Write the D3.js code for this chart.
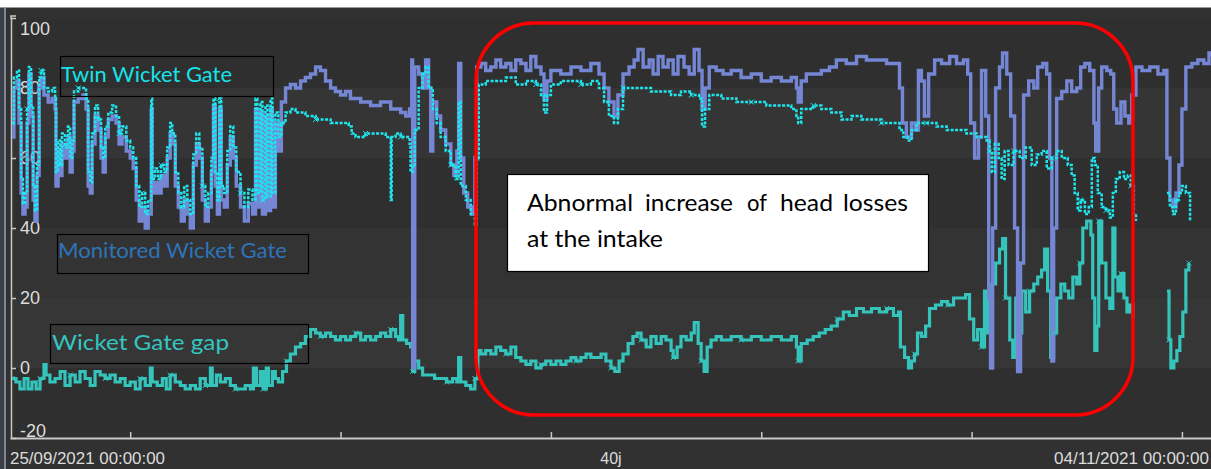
<!DOCTYPE html>
<html>
<head>
<meta charset="utf-8" />
<title>Wicket gate opening</title>
<style>
  html, body { margin: 0; padding: 0; background: #fff; }
  svg { display: block; }
  .lbl { font-family: "Liberation Sans Narrow", "Liberation Sans", Arial, sans-serif; fill: #dcdcdc; }
  .tag { font-family: Lato, "Open Sans", sans-serif; }
</style>
</head>
<body>
<svg id="chart"></svg>
<script src="https://cdn.jsdelivr.net/npm/d3@7"></script>
<script>
// x in days since 25/09/2021 00:00, y in %
const yTicks = [100, 80, 60, 40, 20, 0, -20];
const xTickDays = [4, 11, 18, 25, 32, 39];
const xLabels = [[0, "25/09/2021 00:00:00", "start"], [20, "40j", "middle"], [40, "04/11/2021 00:00:00", "end"]];

const monitored = [
  [0.07,66],[0.13,80],[0.23,82],[0.3,70],[0.37,50],[0.43,44],[0.5,46],[0.57,70],[0.63,84],[0.7,72],
  [0.77,48],[0.83,42],[0.9,55],[0.97,80],[1.03,83],[1.13,78],[1.27,76],[1.4,77],[1.5,74],[1.53,52],
  [1.6,62],[1.67,55],[1.73,64],[1.83,60],[1.93,66],[2.0,56],[2.07,62],[2.13,76],[2.27,77],[2.43,78],
  [2.53,74],[2.6,52],[2.67,50],[2.73,64],[2.83,72],[2.93,68],[3.03,60],[3.1,56],[3.17,66],[3.27,71],
  [3.4,72],[3.53,70],[3.63,64],[3.73,66],[3.87,62],[4.0,60],[4.1,57],[4.2,48],[4.3,42],[4.4,46],
  [4.5,40],[4.6,44],[4.7,74],[4.73,50],[4.83,53],[4.93,50],[5.03,55],[5.13,52],[5.23,60],[5.33,67],
  [5.4,64],[5.5,52],[5.6,46],[5.7,42],[5.8,48],[5.9,44],[6.0,40],[6.1,58],[6.2,64],[6.3,60],
  [6.4,48],[6.5,42],[6.6,46],[6.7,56],[6.77,75],[6.83,52],[6.9,44],[6.97,74],[7.03,48],[7.13,46],
  [7.23,58],[7.33,66],[7.43,60],[7.53,52],[7.67,46],[7.8,42],[7.93,47],[8.07,44],[8.17,74],[8.23,46],
  [8.33,73],[8.4,44],[8.5,72],[8.57,45],[8.67,74],[8.73,46],[8.83,70],[8.93,62],[9.03,76],[9.17,80],
  [9.33,81],[9.5,80],[9.67,82],[9.83,83],[10.0,84],[10.17,86],[10.33,85],[10.5,82],[10.67,80],[10.83,79],
  [11.0,78],[11.17,79],[11.33,77],[11.67,76],[12.0,75],[12.33,76],[12.67,74],[13.0,73],[13.17,72],[13.3,74],
  [13.37,88],[13.4,1],[13.43,0],[13.47,86],[13.6,84],[13.73,80],[13.83,88],[13.93,80],[14.0,62],[14.07,76],
  [14.2,72],[14.33,68],[14.5,64],[14.67,58],[14.77,55],[14.87,62],[14.93,87],[15.0,60],[15.1,50],[15.23,46],
  [15.37,44],[15.47,60],[15.53,86],[15.67,87],[15.83,85],[16.0,86],[16.17,88],[16.33,86],[16.5,87],[16.67,85],
  [16.83,88],[17.0,87],[17.17,85],[17.33,89],[17.5,86],[17.67,84],[17.77,77],[17.87,82],[18.0,85],[18.33,84],
  [18.67,86],[19.0,85],[19.33,87],[19.6,84],[19.77,80],[19.93,76],[20.1,72],[20.23,78],[20.4,84],[20.6,86],
  [20.77,88],[20.9,91],[21.07,86],[21.27,88],[21.4,84],[21.57,89],[21.73,86],[21.9,88],[22.07,84],[22.23,89],
  [22.43,86],[22.6,84],[22.77,91],[22.93,85],[23.03,74],[23.13,80],[23.27,86],[23.5,85],[23.73,84],[24.0,85],
  [24.33,83],[24.67,84],[25.0,82],[25.33,83],[25.67,82],[26.0,83],[26.17,80],[26.23,76],[26.33,82],[26.5,84],
  [26.73,84],[27.0,85],[27.27,86],[27.5,88],[27.83,87],[28.17,89],[28.5,88],[28.83,88],[29.17,87],[29.5,87],
  [29.6,80],[29.7,70],[29.83,66],[30.0,70],[30.13,68],[30.23,85],[30.33,82],[30.43,72],[30.57,84],[30.77,88],
  [31.0,87],[31.27,89],[31.5,87],[31.73,88],[31.87,84],[31.97,70],[32.1,60],[32.23,66],[32.33,85],[32.47,72],
  [32.57,20],[32.63,0],[32.7,40],[32.8,80],[32.93,86],[33.03,90],[33.17,84],[33.3,72],[33.43,40],[33.53,-1],
  [33.63,30],[33.73,78],[33.9,82],[34.07,80],[34.2,86],[34.37,87],[34.5,84],[34.6,60],[34.67,2],[34.73,40],
  [34.83,77],[35.0,79],[35.17,82],[35.33,79],[35.5,80],[35.63,86],[35.77,87],[35.93,85],[36.07,70],[36.13,62],
  [36.23,80],[36.33,86],[36.5,85],[36.63,84],[36.73,74],[36.83,70],[36.97,76],[37.1,72],[37.23,70],[37.33,78],
  [37.47,86],[37.67,85],[37.93,86],[38.2,84],[38.4,85],[38.5,60],[38.6,48],[38.7,46],[38.8,50],[38.9,58],
  [39.0,74],[39.13,86],[39.33,87],[39.53,88],[39.73,87],[39.9,90],[40.0,89]
];

const twin = [
  [0.07,70],[0.13,83],[0.23,85],[0.3,74],[0.37,54],[0.43,47],[0.5,50],[0.57,74],[0.63,86],[0.7,75],
  [0.77,52],[0.83,45],[0.9,58],[0.97,83],[1.03,85],[1.13,80],[1.27,79],[1.4,80],[1.5,77],[1.53,56],
  [1.6,65],[1.67,58],[1.73,67],[1.83,63],[1.93,69],[2.0,60],[2.07,65],[2.13,79],[2.27,80],[2.43,80],
  [2.53,77],[2.6,56],[2.67,53],[2.73,67],[2.83,75],[2.93,71],[3.03,63],[3.1,60],[3.17,69],[3.27,73],
  [3.4,75],[3.53,72],[3.63,67],[3.73,69],[3.87,65],[4.0,63],[4.1,60],[4.2,52],[4.3,46],[4.4,50],
  [4.5,44],[4.6,48],[4.7,77],[4.73,54],[4.83,57],[4.93,54],[5.03,58],[5.13,56],[5.23,63],[5.33,70],
  [5.4,67],[5.5,56],[5.6,50],[5.7,46],[5.8,52],[5.9,48],[6.0,44],[6.1,61],[6.2,67],[6.3,63],
  [6.4,52],[6.5,46],[6.6,50],[6.7,60],[6.77,77],[6.83,56],[6.9,48],[6.97,77],[7.03,52],[7.13,50],
  [7.23,62],[7.33,69],[7.43,63],[7.53,56],[7.67,50],[7.8,46],[7.93,51],[8.07,48],[8.17,77],[8.23,50],
  [8.33,76],[8.4,48],[8.5,75],[8.57,49],[8.67,77],[8.73,50],[8.83,73],[8.93,66],[9.03,70],[9.17,73],
  [9.33,74],[9.5,73],[9.67,73],[9.83,72],[10.0,72],[10.17,71],[10.33,71],[10.67,70],[11.0,70],[11.27,69],
  [11.37,67],[11.5,66],[11.83,67],[12.17,67],[12.5,66],[12.63,66],[12.67,48],[12.7,66],[12.83,67],[13.0,66],
  [13.17,66],[13.3,64],[13.33,56],[13.4,58],[13.47,68],[13.6,80],[13.73,84],[13.83,86],[13.93,80],[14.07,74],
  [14.2,70],[14.33,66],[14.5,62],[14.67,58],[14.83,54],[14.93,76],[15.0,52],[15.17,48],[15.33,44],[15.47,41],
  [15.53,60],[15.6,81],[15.83,82],[16.17,82],[16.5,83],[16.83,81],[17.17,82],[17.5,81],[17.67,78],[17.77,73],
  [17.87,78],[18.0,81],[18.33,82],[18.67,82],[19.0,81],[19.33,82],[19.6,80],[19.77,76],[19.93,72],[20.1,70],
  [20.23,74],[20.4,80],[20.67,80],[21.0,80],[21.33,79],[21.67,79],[22.0,78],[22.33,79],[22.67,78],[22.93,77],
  [23.03,69],[23.13,74],[23.27,78],[23.67,77],[24.17,76],[24.67,76],[25.17,75],[25.67,75],[26.0,74],[26.17,72],
  [26.23,70],[26.33,74],[26.73,75],[27.0,74],[27.33,73],[27.67,71],[28.0,72],[28.33,71],[28.67,71],[29.0,70],
  [29.33,70],[29.6,68],[29.73,66],[29.87,65],[30.0,68],[30.17,70],[30.5,70],[30.83,69],[31.17,68],[31.5,68],
  [31.83,67],[32.17,66],[32.5,65],[32.6,62],[32.67,56],[32.77,64],[32.9,60],[33.0,54],[33.1,62],[33.23,58],
  [33.4,62],[33.6,60],[33.8,63],[34.0,58],[34.17,61],[34.33,62],[34.5,57],[34.67,60],[34.83,62],[35.0,60],
  [35.2,58],[35.33,55],[35.43,50],[35.53,45],[35.63,48],[35.77,44],[35.9,46],[36.0,60],[36.1,58],[36.2,50],
  [36.33,46],[36.47,45],[36.6,43],[36.7,50],[36.8,54],[36.93,56],[37.07,54],[37.2,55],[37.3,52],[37.4,44],
  [37.47,42],[38.0,null],[38.5,50],[38.6,46],[38.7,44],[38.8,48],[38.9,50],[39.0,52],[39.13,50],[39.27,42]
];

const gap = [
  [0.07,-3],[0.2,-4],[0.33,-6],[0.47,-3],[0.6,-6],[0.73,-4],[0.87,-6],[1.0,-3],[1.13,1],[1.2,-2],
  [1.33,-4],[1.5,-3],[1.67,-1],[1.83,-5],[2.0,-2],[2.17,-4],[2.33,-1],[2.5,-3],[2.67,-5],[2.83,-1],
  [3.0,-2],[3.17,-3],[3.33,-2],[3.5,-4],[3.67,-3],[3.83,-5],[4.0,-4],[4.17,-6],[4.33,-3],[4.5,-5],
  [4.67,0],[4.73,-4],[4.9,-5],[5.07,-3],[5.2,-6],[5.33,-2],[5.5,-4],[5.67,-5],[5.83,-6],[6.0,-5],
  [6.17,-6],[6.33,-3],[6.5,-5],[6.67,0],[6.73,-5],[6.87,-2],[7.0,-4],[7.17,-3],[7.33,-5],[7.5,-6],
  [7.67,-6],[7.83,-5],[8.0,-6],[8.1,0],[8.2,-5],[8.33,-1],[8.43,-6],[8.53,0],[8.6,-5],[8.73,-1],
  [8.83,-3],[8.93,-4],[9.07,-1],[9.2,2],[9.33,4],[9.5,6],[9.67,7],[9.83,9],[10.0,11],[10.17,10],
  [10.33,9],[10.5,10],[10.67,9],[10.83,8],[11.0,9],[11.17,8],[11.33,9],[11.5,10],[11.67,8],[11.83,9],
  [12.0,8],[12.17,9],[12.33,10],[12.5,9],[12.67,11],[12.83,9],[12.93,8],[13.0,15],[13.07,8],[13.2,7],
  [13.33,6],[13.4,-1],[13.47,2],[13.6,0],[13.73,-2],[13.93,-2],[14.13,-3],[14.33,-3],[14.53,-4],[14.73,-3],
  [14.87,-4],[14.93,3],[15.0,-4],[15.17,-5],[15.33,-6],[15.47,-3],[15.57,5],[15.67,4],[15.83,5],[16.0,4],
  [16.17,6],[16.33,5],[16.5,4],[16.67,6],[16.83,3],[17.0,2],[17.17,1],[17.33,2],[17.5,0],[17.67,1],
  [17.83,2],[18.0,1],[18.17,2],[18.33,1],[18.5,2],[18.67,3],[18.83,2],[19.0,3],[19.17,4],[19.33,3],
  [19.5,3],[19.67,4],[19.83,2],[20.0,0],[20.13,-1],[20.27,2],[20.4,4],[20.57,7],[20.73,9],[20.87,10],
  [21.0,8],[21.17,6],[21.33,9],[21.5,7],[21.67,9],[21.83,8],[22.0,5],[22.07,3],[22.2,6],[22.33,9],
  [22.5,8],[22.67,10],[22.77,13],[22.9,7],[23.0,2],[23.1,-1],[23.2,6],[23.33,8],[23.5,9],[23.67,8],
  [24.0,9],[24.33,8],[24.67,9],[25.0,8],[25.33,9],[25.67,8],[26.0,9],[26.17,6],[26.23,2],[26.33,7],
  [26.53,8],[26.73,9],[26.93,10],[27.13,11],[27.33,12],[27.53,14],[27.73,16],[27.93,15],[28.17,17],[28.4,16],
  [28.67,17],[28.93,16],[29.17,17],[29.4,15],[29.57,16],[29.63,6],[29.77,3],[29.9,0],[30.0,2],[30.1,4],
  [30.2,10],[30.33,9],[30.47,12],[30.6,17],[30.8,18],[31.0,19],[31.2,18],[31.4,20],[31.6,20],[31.8,21],
  [31.93,14],[32.07,8],[32.2,11],[32.33,6],[32.43,22],[32.53,10],[32.67,24],[32.8,30],[32.93,34],[33.03,37],
  [33.13,20],[33.27,8],[33.37,3],[33.47,20],[33.57,10],[33.67,22],[33.8,16],[33.93,22],[34.07,24],[34.2,26],
  [34.33,28],[34.43,34],[34.53,22],[34.63,3],[34.73,10],[34.83,20],[34.97,24],[35.1,22],[35.23,20],[35.37,26],
  [35.5,24],[35.6,30],[35.7,40],[35.83,42],[35.97,38],[36.03,20],[36.1,5],[36.17,12],[36.23,42],[36.33,30],
  [36.47,20],[36.6,17],[36.7,40],[36.77,26],[36.87,22],[36.97,27],[37.07,20],[37.17,16],[37.27,18],[37.37,14],
  [38.0,null],[38.5,22],[38.57,8],[38.63,0],[38.73,2],[38.83,5],[38.93,9],[39.03,16],[39.13,28],[39.23,30]
];

const noteWords = [["Abnormal", 527, 106], ["increase", 645, 88], ["of", 747, 20], ["head", 780, 53], ["losses", 843, 65]];

const W = 1211, H = 469;
const svg = d3.select("#chart").attr("width", W).attr("height", H);

const x = d3.scaleLinear().domain([0, 40]).range([10, 1212]);
const y = d3.scaleLinear().domain([-20, 100]).range([438, 18]);

// background
svg.append("rect").attr("width", W).attr("height", H).attr("fill", "#313131");
svg.append("rect").attr("width", W).attr("height", 7).attr("fill", "#fff");
svg.append("line").attr("x1", 0).attr("x2", W).attr("y1", 7.5).attr("y2", 7.5).attr("stroke", "#9a9a9a");
svg.append("rect").attr("x", 0).attr("y", 8).attr("width", 4).attr("height", H).attr("fill", "#3a3f4a");
svg.append("line").attr("x1", 5).attr("x2", 5).attr("y1", 8).attr("y2", H).attr("stroke", "#98a2b2").attr("stroke-width", 1.5);

const bandFill = ["#2f2f2f", "#353535", "#2f2f2f", "#333333", "#363636", "#2f2f2f"];
svg.append("g").selectAll("rect").data(yTicks.slice(0, -1)).join("rect")
  .attr("x", 12).attr("width", W - 12)
  .attr("y", d => y(d)).attr("height", d => y(d - 20) - y(d))
  .attr("fill", (d, i) => bandFill[i]);

// axes
const xAxis = svg.append("g").attr("transform", `translate(0,${y(-20)})`)
  .call(d3.axisBottom(x).tickValues(xTickDays).tickSize(-6).tickSizeOuter(0).tickFormat(""));
xAxis.select(".domain").attr("stroke", "#c8c8c8").attr("stroke-width", 2);
xAxis.selectAll(".tick line").attr("stroke", "#c8c8c8").attr("stroke-width", 1.5);

const yAxis = svg.append("g").attr("transform", "translate(11,0)")
  .call(d3.axisLeft(y).tickValues(yTicks).tickSize(-5).tickSizeOuter(0).tickFormat(""));
yAxis.select(".domain").attr("stroke", "#c8c8c8").attr("stroke-width", 1.5);
yAxis.selectAll(".tick line").attr("stroke", "#c8c8c8").attr("stroke-width", 1.5);
svg.append("path").attr("d", "M16,16H11V19").attr("fill", "none").attr("stroke", "#c8c8c8").attr("stroke-width", 1.5);

svg.append("g").selectAll("text").data(yTicks).join("text")
  .attr("class", "lbl").attr("font-size", 18)
  .attr("x", 20)
  .attr("y", d => d === 100 ? y(d) + 17 : d === -20 ? y(d) - 1 : y(d) + 6)
  .text(d => d);

svg.append("g").selectAll("text").data(xLabels).join("text")
  .attr("class", "lbl").attr("font-size", 16)
  .attr("x", d => d[2] === "end" ? 1209 : x(d[0]))
  .attr("y", 464)
  .attr("text-anchor", d => d[2])
  .attr("textLength", d => d[1].length > 5 ? 155 : null)
  .attr("lengthAdjust", "spacingAndGlyphs")
  .text(d => d[1]);

// series
svg.append("clipPath").attr("id", "plot").append("rect")
  .attr("x", 12).attr("y", 17).attr("width", W - 12).attr("height", 421);
const plot = svg.append("g").attr("clip-path", "url(#plot)");

const line = d3.line()
  .defined(d => d[1] !== null)
  .curve(d3.curveStepAfter)
  .x(d => x(d[0])).y(d => y(d[1]));

plot.append("path").datum(gap).attr("d", line)
  .attr("fill", "none").attr("stroke", "#35c4bb").attr("stroke-width", 3.2);
plot.append("path").datum(monitored).attr("d", line)
  .attr("fill", "none").attr("stroke", "#7486d4").attr("stroke-width", 3.4);
plot.append("path").datum(twin).attr("d", line)
  .attr("fill", "none").attr("stroke", "#1ee6ee").attr("stroke-width", 2.5).attr("stroke-dasharray", "3 1.5");

function crosses(data, color, every) {
  const pts = data.filter((d, i) => d[1] !== null && i % every === 0);
  plot.append("g").selectAll("path").data(pts).join("path")
    .attr("d", d => {
      const cx = x(d[0]), cy = y(d[1]), s = 2.5;
      return `M${cx - s},${cy - s}L${cx + s},${cy + s}M${cx - s},${cy + s}L${cx + s},${cy - s}`;
    })
    .attr("stroke", color).attr("stroke-width", 1);
}
crosses(gap, "#35c4bb", 7);
crosses(twin, "#1ee6ee", 7);

// legend labels
function tag(bx, by, bw, bh, tx, ty, tw, size, color, label) {
  svg.append("rect").attr("x", bx).attr("y", by).attr("width", bw).attr("height", bh)
    .attr("fill", "none").attr("stroke", "#000").attr("stroke-width", 1.2);
  svg.append("text").attr("class", "tag").attr("x", tx).attr("y", ty)
    .attr("font-size", size).attr("fill", color)
    .attr("textLength", tw).attr("lengthAdjust", "spacingAndGlyphs").text(label);
}
tag(60.5, 56.5, 213, 40, 61, 82, 171, 21, "#14e4ea", "Twin Wicket Gate");
tag(57.5, 234.5, 251, 39, 58, 258, 229, 21, "#2e74b8", "Monitored Wicket Gate");
tag(50.5, 324.5, 258, 39, 52, 350, 177, 22, "#34c6c0", "Wicket Gate gap");

// highlighted period
svg.append("rect").attr("x", 476).attr("y", 23).attr("width", 657).attr("height", 392)
  .attr("rx", 58).attr("ry", 58)
  .attr("fill", "none").attr("stroke", "#ff0000").attr("stroke-width", 3.5);

// note
svg.append("rect").attr("x", 507.5).attr("y", 174.5).attr("width", 421).attr("height", 97)
  .attr("fill", "#fff").attr("stroke", "#000").attr("stroke-width", 1.2);
svg.append("g").selectAll("text").data(noteWords).join("text")
  .attr("class", "tag").attr("font-size", 23).attr("fill", "#000")
  .attr("x", d => d[1]).attr("y", 211)
  .attr("textLength", d => d[2]).attr("lengthAdjust", "spacingAndGlyphs")
  .text(d => d[0]);
svg.append("text").attr("class", "tag").attr("x", 527).attr("y", 247).attr("font-size", 23).attr("fill", "#000")
  .attr("textLength", 136).attr("lengthAdjust", "spacingAndGlyphs").text("at the intake");
</script>
</body>
</html>
